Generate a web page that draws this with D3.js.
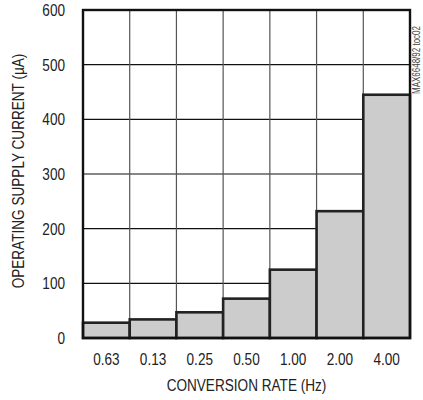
<!DOCTYPE html>
<html>
<head>
<meta charset="utf-8">
<script src="https://cdn.jsdelivr.net/npm/d3@7"></script>
<style>
body { margin: 0; background: #fff; }
text { font-family: "Liberation Sans", Arial, sans-serif; fill: #222; }
</style>
</head>
<body>
<div class="chart"></div>
<script>
var rates = ["0.63", "0.13", "0.25", "0.50", "1.00", "2.00", "4.00"];
var current = [28, 34, 47, 72, 125, 232, 445];
var yTicks = [0, 100, 200, 300, 400, 500, 600];

var margin = ({top: 10, right: 13, bottom: 62, left: 83});
var width = 423 - margin.left - margin.right,
    height = 400 - margin.top - margin.bottom;
var narrow = 0.8; // squeeze text horizontally, the original uses a condensed face

var svg = d3.select(".chart").append("svg")
    .attr("width", 423)
    .attr("height", 400)
    .append("g")
    .attr("transform", "translate(" + margin.left + "," + margin.top + ")");

var x = d3.scaleBand().domain(rates).range([0, width]).padding(0);
var y = d3.scaleLinear().domain([0, 600]).range([height, 0]);

// condensed label helper
function label(parent, px, py, str, anchor, size, rot) {
    return parent.append("text")
        .attr("transform", "translate(" + px + "," + py + ")" + (rot ? " rotate(" + rot + ")" : "") + " scale(" + narrow + ",1)")
        .attr("text-anchor", anchor)
        .attr("font-size", size)
        .text(str);
}

// grid
svg.append("g")
    .selectAll("line")
    .data(yTicks.slice(1, -1))
    .join("line")
    .attr("x1", 0).attr("x2", width)
    .attr("y1", d => y(d)).attr("y2", d => y(d))
    .attr("stroke", "#111").attr("stroke-width", 1.2);

svg.append("g")
    .selectAll("line")
    .data(rates.slice(1))
    .join("line")
    .attr("x1", d => x(d)).attr("x2", d => x(d))
    .attr("y1", 0).attr("y2", height)
    .attr("stroke", "#555").attr("stroke-width", 1.2);

// bars
svg.append("g")
    .selectAll("rect")
    .data(rates)
    .join("rect")
    .attr("x", d => x(d))
    .attr("width", x.bandwidth())
    .attr("y", (d, i) => y(current[i]))
    .attr("height", (d, i) => height - y(current[i]))
    .attr("fill", "#cccccc")
    .attr("stroke", "#222")
    .attr("stroke-width", 2.6);

// frame
svg.append("rect")
    .attr("width", width).attr("height", height)
    .attr("fill", "none").attr("stroke", "#111").attr("stroke-width", 2.4);

// tick labels
var yLab = svg.append("g");
yTicks.forEach(t => label(yLab, -18, y(t) + 6, t, "end", 17));

var xLab = svg.append("g");
rates.forEach(r => label(xLab, x(r) + x.bandwidth() / 2, height + 27, r, "middle", 17));

// titles
label(svg, width / 2, height + 53, "CONVERSION RATE (Hz)", "middle", 17);
label(svg, -59, height / 2 - 3, "OPERATING SUPPLY CURRENT (\u00b5A)", "middle", 17, -90);

label(svg, width + 10, 50, "MAX6648/92 toc02", "middle", 10, -90)
    .style("fill", "#444");
</script>
</body>
</html>
